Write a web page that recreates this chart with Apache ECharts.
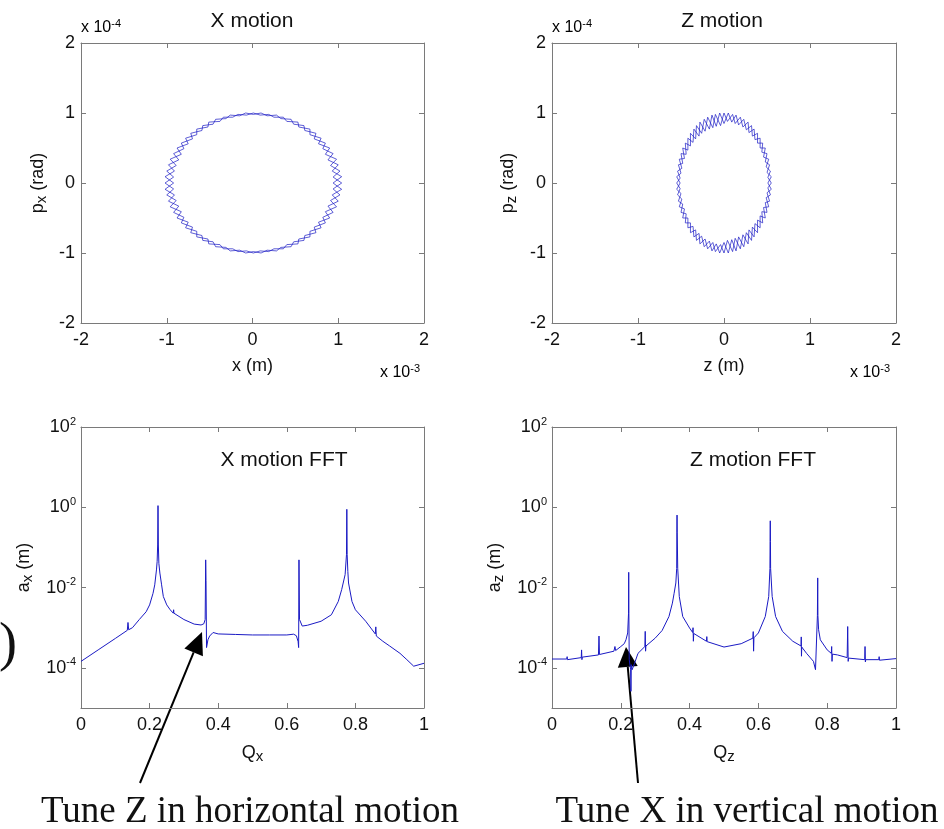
<!DOCTYPE html>
<html>
<head>
<meta charset="utf-8">
<script src="https://cdn.jsdelivr.net/npm/echarts@6.0.0/dist/echarts.min.js"></script>
<style>
html, body { margin: 0; padding: 0; background: #fff; }
#chart { width: 944px; height: 829px; }
</style>
</head>
<body>
<div id="chart"></div>
<script>
// phase space turns, x / z in 1e-3 m, p in 1e-4 rad (two passes each)
var ringX = [
  [1.04, 0], [0.94, 0.085], [1.02, 0.17], [0.91, 0.25], [0.98, 0.34], [0.85, 0.41], [0.90, 0.50], [0.77, 0.56],
  [0.80, 0.64], [0.67, 0.69], [0.67, 0.77], [0.54, 0.80], [0.53, 0.87], [0.40, 0.88], [0.36, 0.94], [0.25, 0.94],
  [0.19, 0.98], [0.09, 0.97], [0.01, 1.0], [-0.07, 0.97], [-0.17, 0.98], [-0.23, 0.94], [-0.34, 0.94], [-0.38, 0.88],
  [-0.51, 0.87], [-0.52, 0.80], [-0.65, 0.77], [-0.65, 0.69], [-0.78, 0.64], [-0.75, 0.56], [-0.88, 0.50], [-0.83, 0.41],
  [-0.96, 0.34], [-0.89, 0.25], [-1.00, 0.17], [-0.92, 0.085], [-1.02, 0], [-0.92, -0.085], [-1.00, -0.17], [-0.89, -0.25],
  [-0.96, -0.34], [-0.83, -0.41], [-0.88, -0.50], [-0.75, -0.56], [-0.78, -0.64], [-0.65, -0.69], [-0.65, -0.77], [-0.52, -0.80],
  [-0.51, -0.87], [-0.38, -0.88], [-0.34, -0.94], [-0.23, -0.94], [-0.17, -0.98], [-0.07, -0.97], [0.01, -1.0], [0.09, -0.97],
  [0.19, -0.98], [0.25, -0.94], [0.36, -0.94], [0.40, -0.88], [0.53, -0.87], [0.54, -0.80], [0.67, -0.77], [0.67, -0.69],
  [0.80, -0.64], [0.77, -0.56], [0.90, -0.50], [0.85, -0.41], [0.98, -0.34], [0.91, -0.25], [1.02, -0.17], [0.94, -0.085], [1.04, 0]
];
var ringX2 = [
  [0.94, 0], [1.04, 0.09], [0.93, 0.17], [1.00, 0.26], [0.88, 0.33], [0.94, 0.42], [0.82, 0.49], [0.85, 0.57],
  [0.72, 0.63], [0.74, 0.71], [0.61, 0.75], [0.60, 0.82], [0.48, 0.84], [0.45, 0.91], [0.33, 0.92], [0.28, 0.97],
  [0.17, 0.96], [0.10, 1.0], [0.01, 0.98], [-0.08, 1.0], [-0.15, 0.96], [-0.26, 0.97], [-0.31, 0.92], [-0.43, 0.91],
  [-0.46, 0.84], [-0.58, 0.82], [-0.59, 0.75], [-0.72, 0.71], [-0.70, 0.63], [-0.83, 0.57], [-0.80, 0.49], [-0.92, 0.42],
  [-0.86, 0.33], [-0.98, 0.26], [-0.91, 0.17], [-1.02, 0.09], [-0.92, 0], [-1.02, -0.09], [-0.91, -0.17], [-0.98, -0.26],
  [-0.86, -0.33], [-0.92, -0.42], [-0.80, -0.49], [-0.83, -0.57], [-0.70, -0.63], [-0.72, -0.71], [-0.59, -0.75], [-0.58, -0.82],
  [-0.46, -0.84], [-0.43, -0.91], [-0.31, -0.92], [-0.26, -0.97], [-0.15, -0.96], [-0.08, -1.0], [0.01, -0.98], [0.10, -1.0],
  [0.17, -0.96], [0.28, -0.97], [0.33, -0.92], [0.45, -0.91], [0.48, -0.84], [0.60, -0.82], [0.61, -0.75], [0.74, -0.71],
  [0.72, -0.63], [0.85, -0.57], [0.82, -0.49], [0.94, -0.42], [0.88, -0.33], [1.00, -0.26], [0.93, -0.17], [1.04, -0.09], [0.94, 0]
];
var ringZ = [
  [0.55, 0], [0.51, 0.08], [0.54, 0.17], [0.49, 0.23], [0.52, 0.34], [0.46, 0.37], [0.48, 0.50], [0.42, 0.50],
  [0.42, 0.64], [0.36, 0.62], [0.35, 0.77], [0.29, 0.72], [0.28, 0.87], [0.22, 0.80], [0.19, 0.94], [0.13, 0.85],
  [0.10, 0.98], [0.04, 0.88], [0, 1.0], [-0.04, 0.82], [-0.10, 0.98], [-0.13, 0.79], [-0.19, 0.94], [-0.22, 0.74],
  [-0.28, 0.87], [-0.29, 0.67], [-0.35, 0.77], [-0.36, 0.58], [-0.42, 0.64], [-0.42, 0.47], [-0.48, 0.50], [-0.46, 0.35],
  [-0.52, 0.34], [-0.49, 0.21], [-0.54, 0.17], [-0.51, 0.07], [-0.55, 0], [-0.51, -0.08], [-0.54, -0.17], [-0.49, -0.23],
  [-0.52, -0.34], [-0.46, -0.37], [-0.48, -0.50], [-0.42, -0.50], [-0.42, -0.64], [-0.36, -0.62], [-0.35, -0.77], [-0.29, -0.72],
  [-0.28, -0.87], [-0.22, -0.80], [-0.19, -0.94], [-0.13, -0.85], [-0.10, -0.98], [-0.04, -0.88], [0, -1.0], [0.04, -0.82],
  [0.10, -0.98], [0.13, -0.79], [0.19, -0.94], [0.22, -0.74], [0.28, -0.87], [0.29, -0.67], [0.35, -0.77], [0.36, -0.58],
  [0.42, -0.64], [0.42, -0.47], [0.48, -0.50], [0.46, -0.35], [0.52, -0.34], [0.49, -0.21], [0.54, -0.17], [0.51, -0.07], [0.55, 0]
];
var ringZ2 = [
  [0.51, 0], [0.55, 0.09], [0.50, 0.15], [0.53, 0.26], [0.48, 0.30], [0.50, 0.42], [0.44, 0.44], [0.45, 0.57],
  [0.39, 0.57], [0.39, 0.71], [0.33, 0.67], [0.32, 0.82], [0.26, 0.76], [0.23, 0.91], [0.17, 0.83], [0.14, 0.97],
  [0.09, 0.87], [0.05, 1.0], [0, 0.85], [-0.05, 1.0], [-0.09, 0.81], [-0.14, 0.97], [-0.17, 0.77], [-0.23, 0.91],
  [-0.26, 0.71], [-0.32, 0.82], [-0.33, 0.63], [-0.39, 0.71], [-0.39, 0.53], [-0.45, 0.57], [-0.44, 0.41], [-0.50, 0.42],
  [-0.48, 0.28], [-0.53, 0.26], [-0.50, 0.14], [-0.55, 0.09], [-0.51, 0], [-0.55, -0.09], [-0.50, -0.15], [-0.53, -0.26],
  [-0.48, -0.30], [-0.50, -0.42], [-0.44, -0.44], [-0.45, -0.57], [-0.39, -0.57], [-0.39, -0.71], [-0.33, -0.67], [-0.32, -0.82],
  [-0.26, -0.76], [-0.23, -0.91], [-0.17, -0.83], [-0.14, -0.97], [-0.09, -0.87], [-0.05, -1.0], [0, -0.85], [0.05, -1.0],
  [0.09, -0.81], [0.14, -0.97], [0.17, -0.77], [0.23, -0.91], [0.26, -0.71], [0.32, -0.82], [0.33, -0.63], [0.39, -0.71],
  [0.39, -0.53], [0.45, -0.57], [0.44, -0.41], [0.50, -0.42], [0.48, -0.28], [0.53, -0.26], [0.50, -0.14], [0.55, -0.09], [0.51, 0]
];

// FFT spectra: tune and amplitude (m)
var qX = [0, 0.05, 0.1, 0.135, 0.137, 0.139, 0.15, 0.17, 0.19, 0.2, 0.21, 0.215, 0.22, 0.222, 0.2235, 0.2245, 0.2255, 0.227,
  0.23, 0.235, 0.24, 0.25, 0.26, 0.269, 0.27, 0.271, 0.3, 0.33, 0.35, 0.358, 0.362, 0.3635, 0.3645, 0.366, 0.37, 0.375,
  0.385, 0.4, 0.45, 0.5, 0.55, 0.6, 0.62, 0.628, 0.633, 0.6345, 0.6355, 0.637, 0.645, 0.66, 0.7, 0.73, 0.75, 0.76, 0.77,
  0.774, 0.775, 0.776, 0.778, 0.78, 0.79, 0.8, 0.83, 0.858, 0.8595, 0.861, 0.88, 0.9, 0.93, 0.95, 0.97, 1.0];
var aX = [1.45e-4, 2.8e-4, 5.4e-4, 8.6e-4, 1.35e-3, 8.9e-4, 1.0e-3, 1.6e-3, 2.5e-3, 3.7e-3, 7.2e-3, 1.17e-2, 2.75e-2, 4.5e-2, 0.115, 1.1, 0.115, 4e-2,
  2.3e-2, 1.17e-2, 6e-3, 3.7e-3, 2.8e-3, 2.3e-3, 2.8e-3, 2.3e-3, 1.6e-3, 1.23e-3, 1.17e-3, 1.25e-3, 1.6e-3, 4.9e-2, 1.5e-2, 3.2e-4, 5e-4, 6.2e-4,
  7.6e-4, 7e-4, 6.8e-4, 6.6e-4, 6.6e-4, 6.6e-4, 6.9e-4, 6.3e-4, 4.5e-4, 3.2e-4, 4.9e-2, 1.6e-3, 1.1e-3, 1.15e-3, 1.45e-3, 2.1e-3, 4.5e-3, 8.9e-3, 2.1e-2,
  6.6e-2, 0.89, 6.6e-2, 2.5e-2, 1.3e-2, 4.5e-3, 2.8e-3, 1.45e-3, 7e-4, 1.05e-3, 6.2e-4, 4.6e-4, 3.5e-4, 2.3e-4, 1.6e-4, 1.1e-4, 1.3e-4];

var qZ = [0, 0.043, 0.044, 0.045, 0.085, 0.086, 0.087, 0.088, 0.135, 0.1366, 0.138, 0.18, 0.183, 0.185, 0.2, 0.21, 0.215, 0.22,
  0.2225, 0.223, 0.2235, 0.2245, 0.2285, 0.2295, 0.2305, 0.233, 0.24, 0.25, 0.27, 0.271, 0.272, 0.273, 0.3, 0.32, 0.34, 0.35,
  0.355, 0.36, 0.3625, 0.363, 0.3635, 0.364, 0.3655, 0.37, 0.38, 0.4, 0.409, 0.41, 0.411, 0.412, 0.449, 0.45, 0.451, 0.5,
  0.55, 0.584, 0.585, 0.586, 0.587, 0.6, 0.62, 0.63, 0.6335, 0.634, 0.6345, 0.635, 0.6355, 0.64, 0.65, 0.67, 0.7, 0.724,
  0.7246, 0.7252, 0.726, 0.74, 0.76, 0.766, 0.7715, 0.7724, 0.773, 0.775, 0.78, 0.8, 0.812, 0.813, 0.814, 0.815, 0.83,
  0.858, 0.8596, 0.861, 0.862, 0.909, 0.91, 0.911, 0.912, 0.95, 0.951, 0.952, 1.0];
var aZ = [1.66e-4, 1.66e-4, 1.9e-4, 1.6e-4, 1.8e-4, 2.8e-4, 1.6e-4, 1.85e-4, 2.1e-4, 6.2e-4, 2.15e-4, 2.6e-4, 3.4e-4, 2.7e-4, 3.4e-4, 4e-4, 5e-4, 7.4e-4,
  2.3e-3, 2.4e-2, 2.3e-3, 1.6e-4, 9e-5, 2.6e-5, 1.2e-4, 9e-5, 1.3e-4, 2.3e-4, 3.4e-4, 8.1e-4, 2.6e-4, 3.5e-4, 5.5e-4, 8.5e-4, 1.9e-3, 4.1e-3,
  7.2e-3, 1.3e-2, 3e-2, 0.23, 0.64, 0.23, 3e-2, 6e-3, 1.9e-3, 9.8e-4, 7.6e-4, 1.0e-3, 4.6e-4, 7.2e-4, 4.6e-4, 6e-4, 4.5e-4, 3.3e-4,
  4e-4, 5.5e-4, 8e-4, 2.6e-4, 5.6e-4, 7.4e-4, 1.9e-3, 6e-3, 3e-2, 0.14, 0.46, 0.14, 3e-2, 6e-3, 1.9e-3, 8.1e-4, 4.6e-4, 3.5e-4,
  5.9e-4, 1.95e-4, 3.3e-4, 2.3e-4, 1.45e-4, 9e-5, 2e-3, 1.74e-2, 2e-3, 8.9e-4, 5e-4, 2.8e-4, 2.3e-4, 3.4e-4, 1.45e-4, 2.2e-4, 2.1e-4,
  1.8e-4, 1.07e-3, 1.45e-4, 1.75e-4, 1.6e-4, 3.4e-4, 1.4e-4, 1.6e-4, 1.6e-4, 1.9e-4, 1.55e-4, 1.7e-4];

var logTicks = [1e-4, 1e-2, 1, 100];

var axisColor = '#7a7a7a';
var textColor = '#111';
var sans = '"Liberation Sans", Arial, sans-serif';
var serif = '"Liberation Serif", "Times New Roman", serif';
var lineColor = '#1a1ac4';

var rich = {
  b: { fontSize: 18, fontFamily: sans, color: textColor, lineHeight: 22 },
  e: { fontSize: 11, fontFamily: sans, color: textColor, lineHeight: 11, verticalAlign: 'top' },
  s: { fontSize: 15, fontFamily: sans, color: textColor, lineHeight: 12, verticalAlign: 'bottom' },
  t: { fontSize: 18, fontFamily: sans, color: textColor, lineHeight: 22 }
};

function powLabel(v) {
  var e = Math.round(Math.log(v) / Math.LN10);
  return '{t|10}{e|' + e + '}';
}

function frame(gi, pos, opts) {
  var ax = {
    gridIndex: gi,
    type: opts.type || 'value',
    position: pos,
    min: opts.min,
    max: opts.max,
    axisLine: { show: true, onZero: false, lineStyle: { color: axisColor, width: 1 } },
    axisTick: { show: true, inside: true, length: 5, lineStyle: { color: axisColor } },
    splitLine: { show: false },
    axisLabel: { show: false }
  };
  if (opts.type === 'log') {
    ax.logBase = 10;
    ax.axisTick.customValues = logTicks;
  } else {
    ax.interval = opts.interval;
  }
  if (opts.labels) {
    ax.axisLabel = {
      show: true, margin: opts.margin, color: textColor, fontSize: 18, fontFamily: sans
    };
    if (opts.type === 'log') {
      ax.axisLabel.customValues = logTicks;
      ax.axisLabel.formatter = powLabel;
      ax.axisLabel.rich = rich;
    }
  }
  if (opts.name) {
    ax.name = opts.name;
    ax.nameLocation = 'middle';
    ax.nameGap = opts.nameGap;
    ax.nameTextStyle = { rich: rich };
  }
  return ax;
}

var grids = [
  { left: 81, top: 43, width: 343, height: 280 },
  { left: 552, top: 43, width: 344, height: 280 },
  { left: 81, top: 427, width: 343, height: 281 },
  { left: 552, top: 427, width: 344, height: 281 }
];

var xAxes = [
  frame(0, 'bottom', { min: -2, max: 2, interval: 1, labels: true, margin: 8, name: '{b|x (m)}', nameGap: 32 }),
  frame(0, 'top', { min: -2, max: 2, interval: 1 }),
  frame(1, 'bottom', { min: -2, max: 2, interval: 1, labels: true, margin: 8, name: '{b|z (m)}', nameGap: 32 }),
  frame(1, 'top', { min: -2, max: 2, interval: 1 }),
  frame(2, 'bottom', { min: 0, max: 1, interval: 0.2, labels: true, margin: 8, name: '{b|Q}{s|x}', nameGap: 34 }),
  frame(2, 'top', { min: 0, max: 1, interval: 0.2 }),
  frame(3, 'bottom', { min: 0, max: 1, interval: 0.2, labels: true, margin: 8, name: '{b|Q}{s|z}', nameGap: 34 }),
  frame(3, 'top', { min: 0, max: 1, interval: 0.2 })
];
var yAxes = [
  frame(0, 'left', { min: -2, max: 2, interval: 1, labels: true, margin: 6, name: '{b|p}{s|x}{b| (rad)}', nameGap: 32 }),
  frame(0, 'right', { min: -2, max: 2, interval: 1 }),
  frame(1, 'left', { min: -2, max: 2, interval: 1, labels: true, margin: 6, name: '{b|p}{s|z}{b| (rad)}', nameGap: 33 }),
  frame(1, 'right', { min: -2, max: 2, interval: 1 }),
  frame(2, 'left', { type: 'log', min: 1e-5, max: 100, labels: true, margin: 5, name: '{b|a}{s|x}{b| (m)}', nameGap: 46 }),
  frame(2, 'right', { type: 'log', min: 1e-5, max: 100 }),
  frame(3, 'left', { type: 'log', min: 1e-5, max: 100, labels: true, margin: 5, name: '{b|a}{s|z}{b| (m)}', nameGap: 46 }),
  frame(3, 'right', { type: 'log', min: 1e-5, max: 100 })
];

function pairs(q, a) {
  return q.map(function (v, i) { return [v, a[i]]; });
}

function lineSeries(xi, yi, data, w) {
  return {
    type: 'line', xAxisIndex: xi, yAxisIndex: yi, data: data,
    showSymbol: false, symbol: 'none', silent: true, animation: false,
    lineStyle: { color: lineColor, width: w }
  };
}

var series = [
  lineSeries(0, 0, ringX, 0.7),
  lineSeries(0, 0, ringX2, 0.7),
  lineSeries(2, 2, ringZ, 0.7),
  lineSeries(2, 2, ringZ2, 0.7),
  lineSeries(4, 4, pairs(qX, aX), 1),
  lineSeries(6, 6, pairs(qZ, aZ), 1)
];

function label(x, y, text, size, align, family) {
  return {
    type: 'text', x: x, y: y, silent: true,
    style: {
      text: text, fill: textColor, textAlign: align || 'center', textVerticalAlign: 'middle',
      font: size + 'px ' + (family || sans)
    }
  };
}

function multiplier(x, y, e) {
  return {
    type: 'text', x: x, y: y, silent: true,
    style: {
      text: '{m|x 10}{e|' + e + '}', textAlign: 'left', textVerticalAlign: 'middle',
      rich: {
        m: { fontSize: 16, fontFamily: sans, color: textColor, lineHeight: 20 },
        e: { fontSize: 11, fontFamily: sans, color: textColor, lineHeight: 11, verticalAlign: 'top' }
      }
    }
  };
}

function arrow(x0, y0, x1, y1, len, half) {
  var dx = x1 - x0, dy = y1 - y0;
  var d = Math.sqrt(dx * dx + dy * dy);
  var ux = dx / d, uy = dy / d;
  var bx = x1 - ux * len, by = y1 - uy * len;
  return [
    { type: 'line', silent: true, shape: { x1: x0, y1: y0, x2: bx, y2: by }, style: { stroke: '#000', lineWidth: 2 } },
    { type: 'polygon', silent: true,
      shape: { points: [[x1, y1], [bx - uy * half, by + ux * half], [bx + uy * half, by - ux * half]] },
      style: { fill: '#000' } }
  ];
}

var graphics = [
  label(252, 21, 'X motion', 21),
  label(722, 21, 'Z motion', 21),
  multiplier(81, 28, '-4'),
  multiplier(552, 28, '-4'),
  multiplier(380, 373, '-3'),
  multiplier(850, 373, '-3'),
  label(284, 460, 'X motion FFT', 21),
  label(753, 460, 'Z motion FFT', 21),
  label(250, 812, 'Tune Z in horizontal motion', 37, 'center', serif),
  label(747, 812, 'Tune X in vertical motion', 37, 'center', serif),
  label(17, 646, ')', 54, 'right', serif)
].concat(arrow(140, 783, 202, 632, 22, 10), arrow(638, 783, 626, 647, 20, 10));

var chart = echarts.init(document.getElementById('chart'), null, { renderer: 'canvas' });
chart.setOption({
  backgroundColor: '#fff',
  animation: false,
  grid: grids,
  xAxis: xAxes,
  yAxis: yAxes,
  series: series,
  graphic: graphics
});
</script>
</body>
</html>
